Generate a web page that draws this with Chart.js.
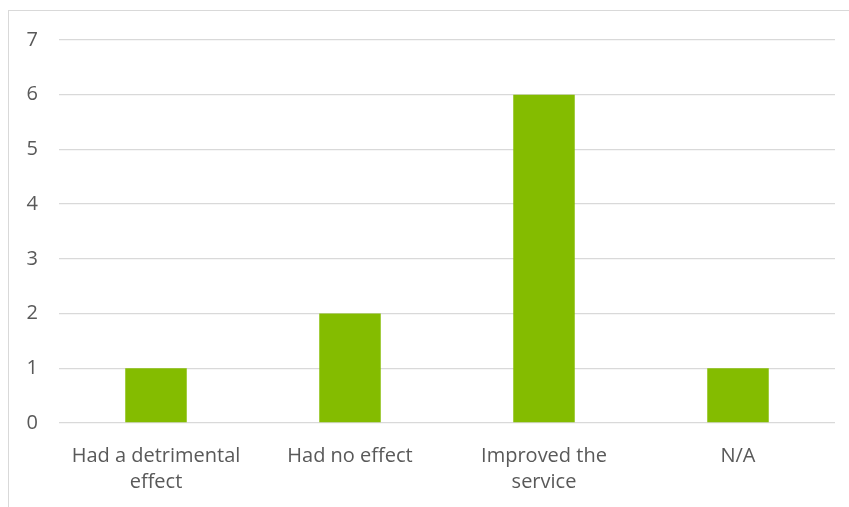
<!DOCTYPE html>
<html>
<head>
<meta charset="utf-8">
<script src="https://cdn.jsdelivr.net/npm/chart.js@4/dist/chart.umd.min.js"></script>
<style>
  html, body { margin: 0; padding: 0; background: #ffffff; }
  body { width: 849px; height: 507px; position: relative; overflow: hidden; }
  #frame {
    position: absolute; left: 8px; top: 10px; width: 900px; height: 600px;
    border: 1px solid #d9d9d9; box-sizing: border-box;
  }
  #wrap { position: absolute; left: 0; top: 0; width: 849px; height: 507px; }
</style>
</head>
<body>
<div id="frame"></div>
<div id="wrap"><canvas id="chart" width="849" height="507"></canvas></div>
<script>
// Survey responses: effect on the service
const categories = [["Had a detrimental", "effect"], "Had no effect", ["Improved the", "service"], "N/A"];
const responses = [1, 2, 6, 1];
const yTicks = [0, 1, 2, 3, 4, 5, 6, 7];

const textColor = '#595959';
const gridColor = '#d9d9d9';
const barColor = '#84bc00';
const font = { family: "'Open Sans', sans-serif", size: 20, lineHeight: 1.3 };

new Chart(document.getElementById('chart'), {
  type: 'bar',
  data: {
    labels: categories,
    datasets: [{
      data: responses,
      backgroundColor: barColor,
      borderWidth: 0,
      categoryPercentage: 1.0,
      barPercentage: 0.317
    }]
  },
  options: {
    responsive: false,
    animation: false,
    devicePixelRatio: 1,
    layout: { padding: { top: 40, right: 14, bottom: 0, left: 0 } },
    plugins: { legend: { display: false }, tooltip: { enabled: false } },
    scales: {
      x: {
        grid: { display: false, drawTicks: false },
        border: { display: false },
        ticks: { color: textColor, font: font, padding: 20, maxRotation: 0, autoSkip: false },
        afterFit(scale) { scale.height = 84; }
      },
      y: {
        min: 0,
        max: yTicks[yTicks.length - 1],
        afterBuildTicks(scale) { scale.ticks = yTicks.map(v => ({ value: v })); },
        grid: { color: gridColor, lineWidth: 1.3, drawTicks: false },
        border: { display: false },
        ticks: { color: textColor, font: font, padding: 21 },
        afterFit(scale) { scale.width = 59; }
      }
    }
  }
});
</script>
</body>
</html>
